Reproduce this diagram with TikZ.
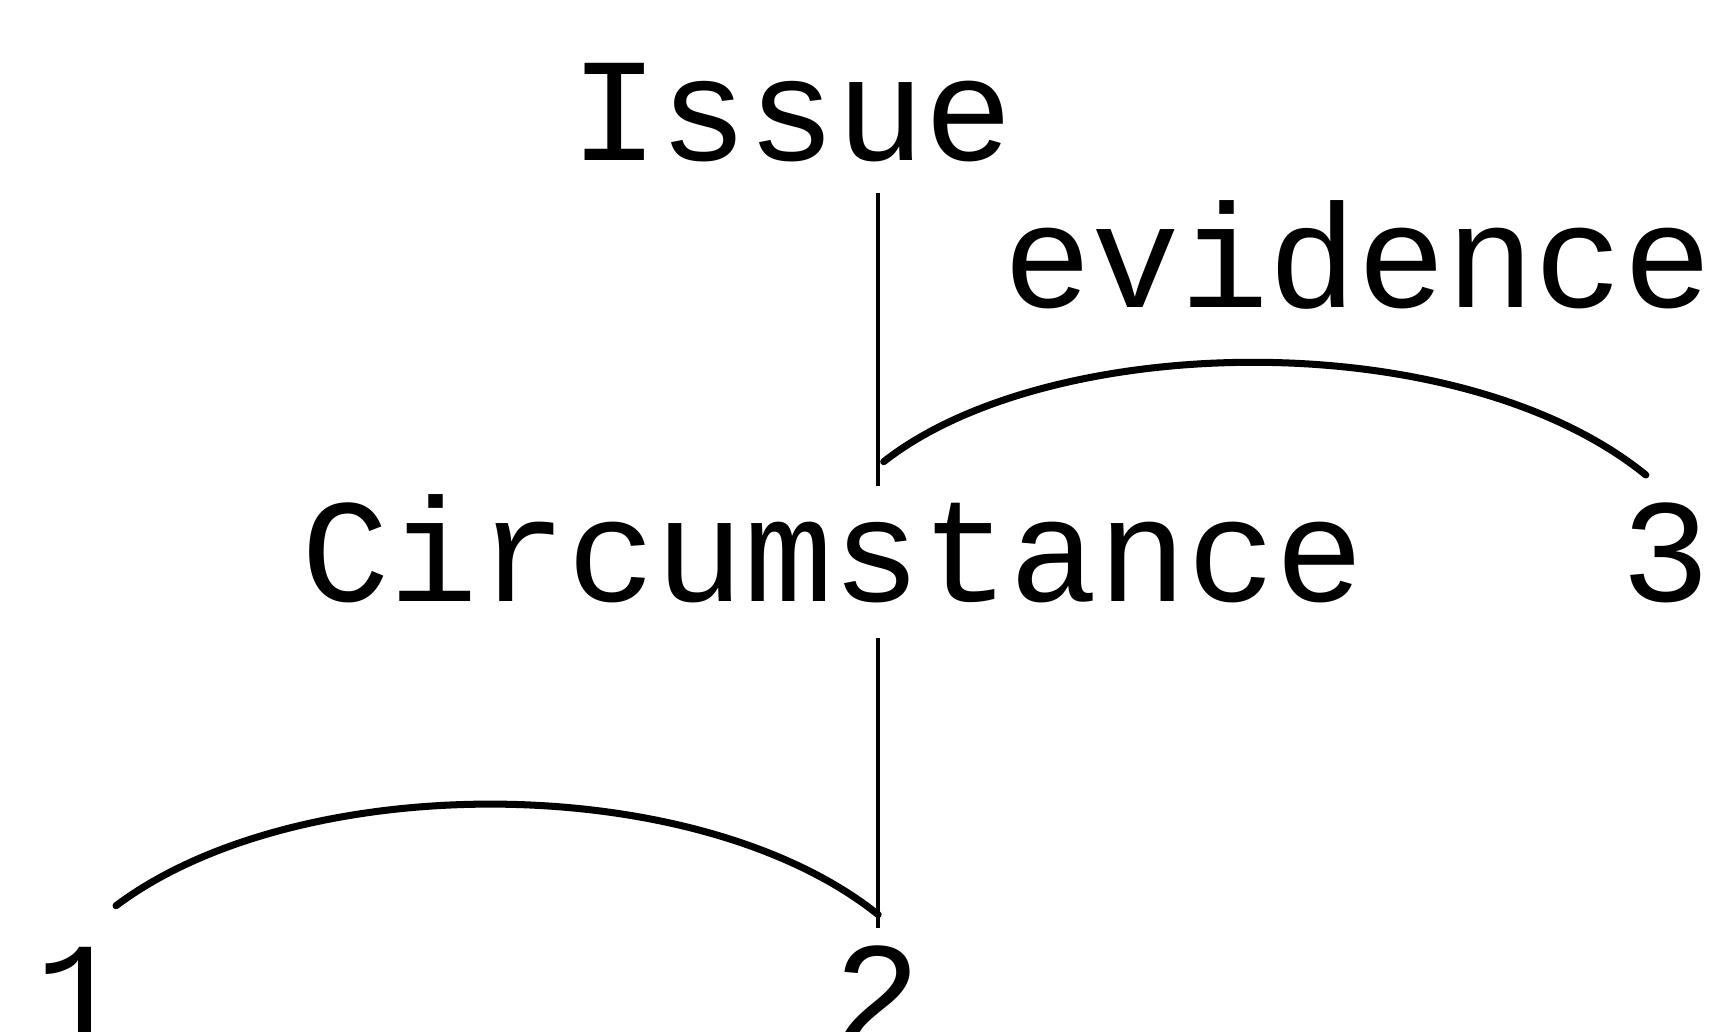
\documentclass[tikz,border=0pt]{standalone}
\usepackage{fontspec}
\setmonofont{Liberation Mono}
\usepackage{tikz}
\usetikzlibrary{positioning}

\tikzset{
  word/.style={font=\ttfamily\fontsize{42}{50}\selectfont, anchor=base, inner sep=0pt},
  stem/.style={line width=1.3pt},
  arc/.style={line width=2pt, line cap=round}
}

\begin{document}
\begin{tikzpicture}[x=0.011046cm, y=-0.011046cm]
\useasboundingbox (0,0) rectangle (1568,934);
%--- parole ---
\node[word] (issue) at (717,145) {Issue};
\node[word] (evid) at (1229,278) {evidence};
\node[word] (circ) at (754,545) {Circumstance};
\node[word] (n3) at (1508,545) {3};
\node[word] (n1) at (72,946) {1};
\node[word] (n2) at (795,946) {2};
% punti di attacco
\coordinate (issfoot) at (795,175);
\coordinate (circhead) at (795,440);
\coordinate (circfoot) at (795,578);
\coordinate (twohead) at (795,840);
\coordinate (evstart) at (800,418);
\coordinate (threehead) at (1490,430);
\coordinate (onehead) at (105,820);
\coordinate (twoarc) at (795,828);
%--- rami ---
\draw[stem] (issfoot) -- (circhead);
\draw[stem] (circfoot) -- (twohead);
% archi
\draw[arc] (evstart) .. controls (950,300) and (1320,292) .. (threehead);
\draw[arc] (onehead) .. controls (270,696) and (630,696) .. (twoarc);
\end{tikzpicture}
\end{document}
